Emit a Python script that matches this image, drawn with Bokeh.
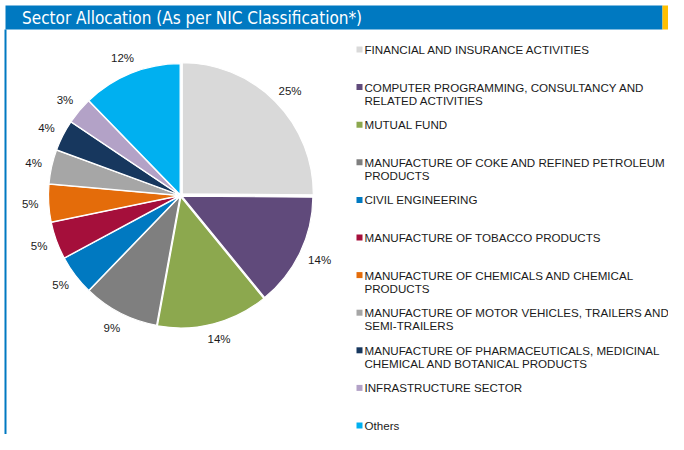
import math
from bokeh.plotting import figure
from bokeh.models import ColumnDataSource, Range1d
from bokeh.core.properties import value
from bokeh.embed import file_html
from bokeh.resources import INLINE

# ---------------- data ----------------
sectors = [
    "FINANCIAL AND INSURANCE ACTIVITIES",
    "COMPUTER PROGRAMMING, CONSULTANCY AND\nRELATED ACTIVITIES",
    "MUTUAL FUND",
    "MANUFACTURE OF COKE AND REFINED PETROLEUM\nPRODUCTS",
    "CIVIL ENGINEERING",
    "MANUFACTURE OF TOBACCO PRODUCTS",
    "MANUFACTURE OF CHEMICALS AND CHEMICAL\nPRODUCTS",
    "MANUFACTURE OF MOTOR VEHICLES, TRAILERS AND\nSEMI-TRAILERS",
    "MANUFACTURE OF PHARMACEUTICALS, MEDICINAL\nCHEMICAL AND BOTANICAL PRODUCTS",
    "INFRASTRUCTURE SECTOR",
    "Others",
]
shares = [25.0, 13.9, 13.7, 9.3, 4.9, 4.6, 4.6, 4.2, 3.8, 3.3, 12.2]
colors = ["#D9D9D9", "#604A7B", "#8CA84E", "#7F7F7F", "#0079C1", "#A50F3B",
          "#E46C0A", "#A6A6A6", "#17375E", "#B3A2C7", "#00B0F0"]
title_text = "Sector Allocation (As per NIC Classification*)"

# ---------------- layout (pixels) ----------------
W, H = 668, 434
FONT = value("Liberation Sans")
def Y(fy):
    return H - fy

cx, cy, R = 180, Y(195), 131
explode = [2.5, 1.5, 1.5, 1, 1, 1, 1, 1, 1, 1, 1]

p = figure(width=W, height=H, output_backend="svg", toolbar_location=None,
           x_range=Range1d(0, W), y_range=Range1d(0, H), min_border=0,
           background_fill_color="white", border_fill_color="white")
p.axis.visible = False
p.grid.visible = False
p.outline_line_color = None

# header bar
p.quad(left=[5], right=[662], top=[Y(5)], bottom=[Y(29)], fill_color="#0079C1", line_color=None)
p.quad(left=[662], right=[W], top=[Y(5)], bottom=[Y(29)], fill_color="#FFC000", line_color=None)
p.quad(left=[4], right=[6], top=[Y(29)], bottom=[0], fill_color="#0079C1", line_color=None)
p.text(x=[21.5], y=[Y(17)], text=[title_text], text_font=value("DejaVu Sans Condensed"),
       text_font_size="17px", text_color="white", text_baseline="middle", text_align="left")

# pie
total = sum(shares)
cum = [0.0]
for s in shares:
    cum.append(cum[-1] + s / total)
xs, ys, sa, ea, lx, ly, lt = [], [], [], [], [], [], []
for i, s in enumerate(shares):
    a0 = math.pi / 2 - 2 * math.pi * cum[i + 1]
    a1 = math.pi / 2 - 2 * math.pi * cum[i]
    mid = (a0 + a1) / 2
    dx, dy = math.cos(mid), math.sin(mid)
    xs.append(cx + explode[i] * dx)
    ys.append(cy + explode[i] * dy)
    sa.append(a0)
    ea.append(a1)
    txt = f"{round(s)}%"
    w = 7.5 * len(txt)
    g = 12
    lx.append(cx + (R + g) * dx + dx * w / 2)
    ly.append(cy + (R + g) * dy + dy * 5.5)
    lt.append(txt)

src = ColumnDataSource(dict(x=xs, y=ys, sa=sa, ea=ea, color=colors))
p.wedge(x="x", y="y", radius=R, start_angle="sa", end_angle="ea", fill_color="color",
        line_color="white", line_width=1.2, source=src)
p.text(x=lx, y=ly, text=lt, text_font=FONT, text_font_size="11.5px", text_color="#1a1a1a",
       text_align="center", text_baseline="middle")

# legend
mx, tx0 = 359, 364
row0, step, lh = 49, 37.6, 13
sq_x, sq_y, sq_c = [], [], []
t_x, t_y, t_t = [], [], []
for i, lab in enumerate(sectors):
    fy = row0 + i * step
    sq_x.append(mx)
    sq_y.append(Y(fy))
    sq_c.append(colors[i])
    for j, line in enumerate(lab.split("\n")):
        t_x.append(tx0)
        t_y.append(Y(fy + j * lh))
        t_t.append(line)
p.rect(x=sq_x, y=sq_y, width=6, height=6, fill_color=sq_c, line_color=None)
p.text(x=t_x, y=t_y, text=t_t, text_font=FONT, text_font_size="11.6px", text_color="#1a1a1a",
       text_align="left", text_baseline="middle")

open("out.html", "w").write(file_html(p, INLINE))
